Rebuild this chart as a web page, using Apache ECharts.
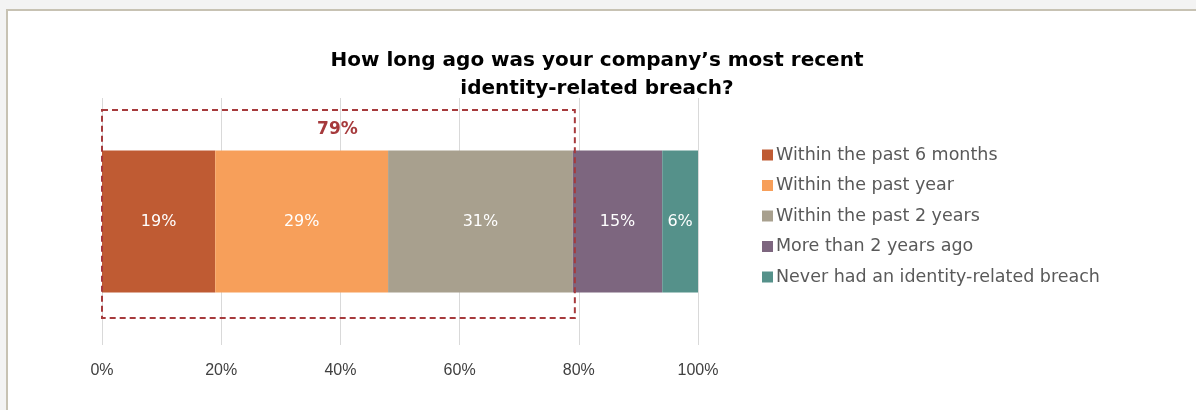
<!DOCTYPE html>
<html>
<head>
<meta charset="utf-8">
<script src="https://cdn.jsdelivr.net/npm/echarts@6/dist/echarts.min.js"></script>
<style>
  html, body { margin: 0; padding: 0; background: #f3f3f3; }
  #chart { width: 1196px; height: 410px; }
</style>
</head>
<body>
<div id="chart"></div>
<script>
// Survey answers, share of respondents (%)
const categories = ['Breach timing'];
const seriesNames = [
  'Within the past 6 months',
  'Within the past year',
  'Within the past 2 years',
  'More than 2 years ago',
  'Never had an identity-related breach'
];
const seriesValues = [19, 29, 31, 15, 6];
const seriesColors = ['#BF5B33', '#F79F5A', '#A8A08E', '#7D667F', '#55918A'];
const tickLabels = ['0%', '20%', '40%', '60%', '80%', '100%'];
const highlightCount = 3; // first three answers are grouped in the dashed box

const chart = echarts.init(document.getElementById('chart'));
const highlightTotal = seriesValues.slice(0, highlightCount).reduce((a, b) => a + b, 0);
const boxColor = '#A63A3C';

const series = seriesNames.map((name, i) => ({
  name: name,
  type: 'bar',
  stack: 'total',
  barWidth: 142,
  data: [seriesValues[i]],
  itemStyle: { color: seriesColors[i] },
  label: {
    show: true,
    position: 'inside',
    formatter: '{c}%',
    color: '#ffffff',
    fontFamily: 'DejaVu Sans',
    fontSize: 16,
    fontWeight: 'normal'
  },
  emphasis: { disabled: true }
}));

chart.setOption({
  animation: false,
  backgroundColor: 'transparent',
  title: {
    text: 'How long ago was your company\u2019s most recent\nidentity-related breach?',
    left: 592,
    textAlign: 'center',
    top: 42,
    textStyle: {
      fontFamily: 'DejaVu Sans',
      fontWeight: 'bold',
      fontSize: 20,
      lineHeight: 28,
      color: '#000000'
    }
  },
  legend: {
    orient: 'vertical',
    left: 757,
    top: 140,
    itemWidth: 11,
    itemHeight: 11,
    itemGap: 10.5,
    icon: 'rect',
    selectedMode: false,
    data: seriesNames,
    textStyle: {
      fontFamily: 'DejaVu Sans',
      fontSize: 17.5,
      color: '#595959',
      padding: [0, 0, 0, -2],
      lineHeight: 20
    }
  },
  grid: { left: 102, right: 498, top: 98, bottom: 65 },
  xAxis: {
    type: 'value',
    min: 0,
    max: 100,
    interval: 20,
    axisLine: { show: false },
    axisTick: { show: false },
    splitLine: { show: true, lineStyle: { color: '#d9d9d9', width: 1 } },
    axisLabel: {
      margin: 18,
      fontFamily: 'Liberation Sans',
      fontSize: 16,
      color: '#404040',
      formatter: (v) => tickLabels[Math.round(v / 20)]
    }
  },
  yAxis: {
    type: 'category',
    data: categories,
    show: false
  },
  series: series
});

// Frame edges and the dashed box around the grouped answers
function drawOverlay() {
  const x0 = chart.convertToPixel({ gridIndex: 0 }, [0, 0])[0];
  const x1 = chart.convertToPixel({ gridIndex: 0 }, [highlightTotal, 0])[0];
  chart.setOption({
    graphic: [
      {
        type: 'rect', z: -10, silent: true,
        shape: { x: 7, y: 10, width: 1196, height: 410 },
        style: { fill: '#ffffff' }
      },
      {
        type: 'polyline', z: -5, silent: true,
        shape: { points: [[7, 410], [7, 10], [1196, 10]] },
        style: { stroke: '#c7c2b3', lineWidth: 2, fill: null }
      },
      {
        type: 'rect', z: 10, silent: true,
        shape: { x: x0, y: 110, width: x1 - x0 + 2, height: 208 },
        style: { fill: null, stroke: boxColor, lineWidth: 2, lineDash: [6, 4] }
      },
      {
        type: 'text', z: 10, silent: true,
        x: (x0 + x1) / 2, y: 130,
        style: {
          text: highlightTotal + '%',
          fill: boxColor,
          font: 'bold 17px "DejaVu Sans"',
          textAlign: 'center',
          textVerticalAlign: 'middle'
        }
      }
    ]
  });
}
drawOverlay();
</script>
</body>
</html>
